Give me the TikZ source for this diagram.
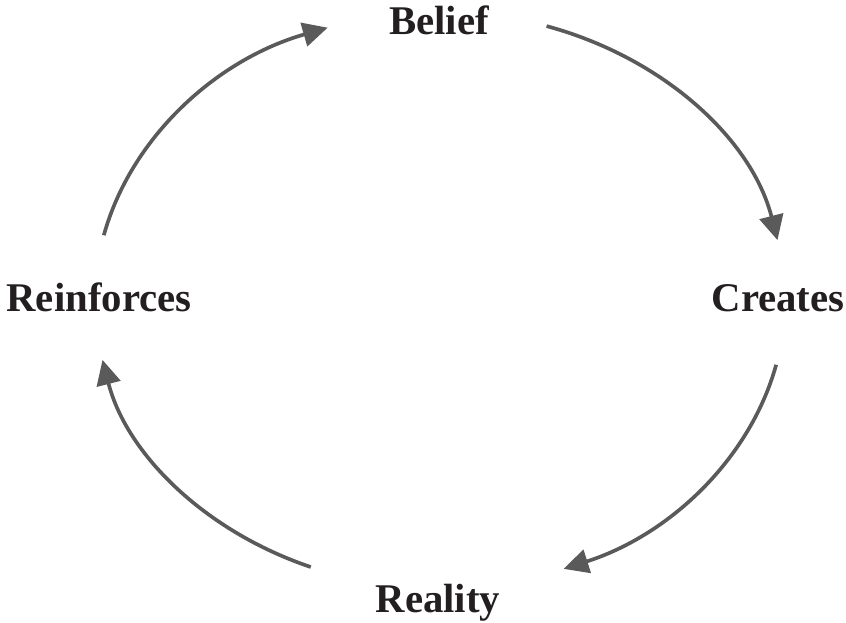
\documentclass[tikz,border=0pt]{standalone}
\usepackage{fontspec}
\setmainfont{Liberation Serif}
\usepackage{xcolor}
\usepackage{tikz}
\usetikzlibrary{arrows.meta}
\definecolor{ink}{HTML}{231F20}
\definecolor{loopgray}{HTML}{5A5A5A}
\tikzset{
  stage/.style={
    anchor=base,inner sep=0pt,text=ink,
    font=\fontsize{29}{35}\selectfont\bfseries
  },
  cyclearrow/.style={-{Triangle[length=6.2mm,width=6mm]},draw=loopgray,line width=2.6pt}
}
\begin{document}
\begin{tikzpicture}
\useasboundingbox (-11,-8.05) rectangle (10.15,7.5);

\node[stage] (belief) at (-0.025,6.65) {Belief};
\node[stage] (creates) at (8.45,-0.275) {Creates};
\node[stage] (reality) at (-0.05,-7.8) {Reality};
\node[stage] (reinforces) at (-8.525,-0.275) {Reinforces};

\coordinate (belief-out) at (72:8.625 and 7.2);
\coordinate (creates-out) at (-13:8.625 and 7.2);
\coordinate (reality-out) at (-112:8.625 and 7.2);
\coordinate (reinforces-out) at (167:8.625 and 7.2);

\draw[cyclearrow] (belief-out) arc[start angle=72,end angle=12,x radius=8.625,y radius=7.2];
\draw[cyclearrow] (creates-out) arc[start angle=-13,end angle=-69,x radius=8.625,y radius=7.2];
\draw[cyclearrow] (reality-out) arc[start angle=-112,end angle=-168,x radius=8.625,y radius=7.2];
\draw[cyclearrow] (reinforces-out) arc[start angle=167,end angle=109,x radius=8.625,y radius=7.2];
\end{tikzpicture}
\end{document}
